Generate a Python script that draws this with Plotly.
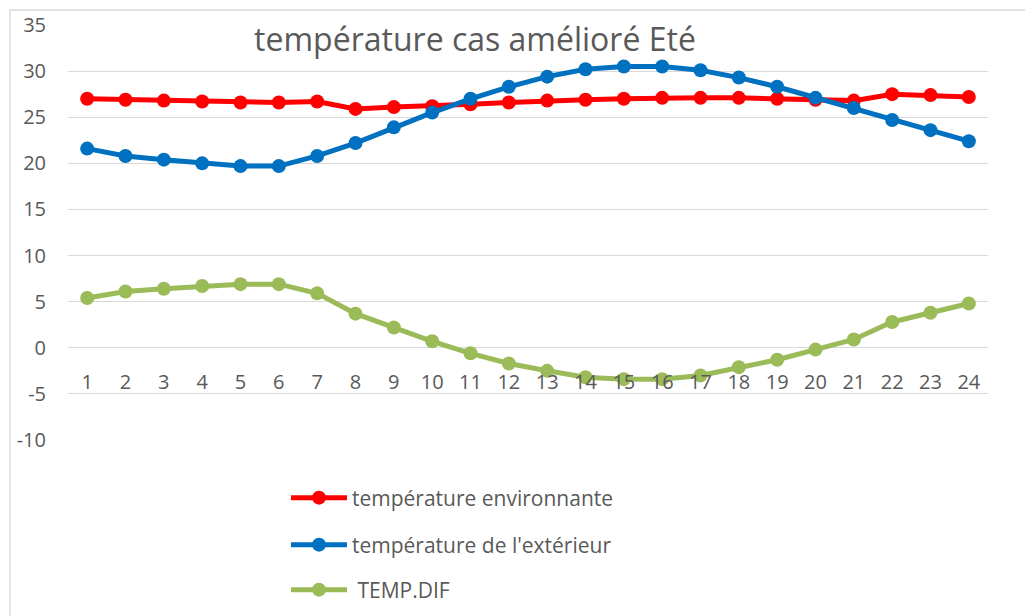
import plotly.graph_objects as go

# Hours of the day (category axis)
hours = [str(h) for h in range(1, 25)]

# Temperatures, °C
temp_environnante = [27.0, 26.9, 26.8, 26.7, 26.6, 26.6, 26.7, 25.9, 26.1, 26.2, 26.4, 26.6,
                     26.8, 26.9, 27.0, 27.1, 27.1, 27.1, 27.0, 26.9, 26.8, 27.5, 27.4, 27.2]
temp_exterieur = [21.6, 20.8, 20.4, 20.0, 19.7, 19.7, 20.8, 22.2, 23.9, 25.5, 27.0, 28.3,
                  29.4, 30.2, 30.5, 30.5, 30.1, 29.3, 28.3, 27.1, 26.0, 24.7, 23.6, 22.4]
temp_dif = [5.4, 6.1, 6.4, 6.7, 6.9, 6.9, 5.9, 3.7, 2.2, 0.7, -0.6, -1.7,
            -2.5, -3.2, -3.4, -3.4, -3.0, -2.1, -1.3, -0.2, 0.9, 2.8, 3.8, 4.8]

y_ticks = [-10, -5, 0, 5, 10, 15, 20, 25, 30, 35]
y_tick_labels = ["-10", "-5", "0", "5", "10", "15", "20", "25", "30", "35"]

series = [
    ("température environnante", temp_environnante, "#FF0000", "legend"),
    ("température de l'extérieur", temp_exterieur, "#0070C0", "legend2"),
    (" TEMP.DIF", temp_dif, "#9BBB59", "legend3"),
]

FONT = "Open Sans"
TEXT = "#595959"
GRID = "#D9D9D9"

fig = go.Figure()
for name, values, color, leg in series:
    fig.add_trace(go.Scatter(
        x=hours, y=values, name=name, mode="lines+markers",
        line=dict(color=color, width=5),
        marker=dict(color=color, size=14),
        legend=leg, showlegend=True,
    ))

L, R, T, B = 68, 37, 25, 176
W, H = 1025, 616
PW, PH = W - L - R, H - T - B


def px_x(px):
    return (px - L) / PW


def px_y(py):
    return (H - B - py) / PH


legend_common = dict(
    font=dict(family=FONT, size=21, color=TEXT),
    itemwidth=56, bgcolor="rgba(0,0,0,0)",
    xanchor="left", yanchor="middle", x=px_x(286),
)

fig.update_layout(
    width=W, height=H,
    showlegend=True,
    margin=dict(l=L, r=R, t=T, b=B, autoexpand=False),
    paper_bgcolor="white", plot_bgcolor="white",
    font=dict(family=FONT, color=TEXT),
    title=dict(
        text="température cas amélioré Eté",
        font=dict(family=FONT, size=32, color=TEXT),
        x=475 / W, xanchor="center", y=1 - 40 / H, yanchor="middle",
    ),
    xaxis=dict(
        type="category", range=[-0.5, 23.5],
        showgrid=False, zeroline=False, showline=False,
        anchor="free", position=px_y(348),
        ticks="", ticklabelstandoff=20,
        tickfont=dict(family=FONT, size=20, color=TEXT),
    ),
    yaxis=dict(
        range=[-10, 35], tickvals=y_ticks, ticktext=y_tick_labels,
        showgrid=True, gridcolor=GRID, gridwidth=1.3,
        zeroline=False, showline=False, ticks="",
        ticklabelstandoff=21,
        tickfont=dict(family=FONT, size=20, color=TEXT),
    ),
    legend=dict(**legend_common, y=px_y(498)),
    legend2=dict(**legend_common, y=px_y(545)),
    legend3=dict(**legend_common, y=px_y(590)),
    shapes=[dict(
        type="rect", xref="paper", yref="paper", layer="below",
        x0=px_x(10), x1=px_x(W + 10), y0=px_y(H + 10), y1=px_y(10),
        line=dict(color=GRID, width=1.3), fillcolor="rgba(0,0,0,0)",
    )],
)

fig.write_html("out.html")
